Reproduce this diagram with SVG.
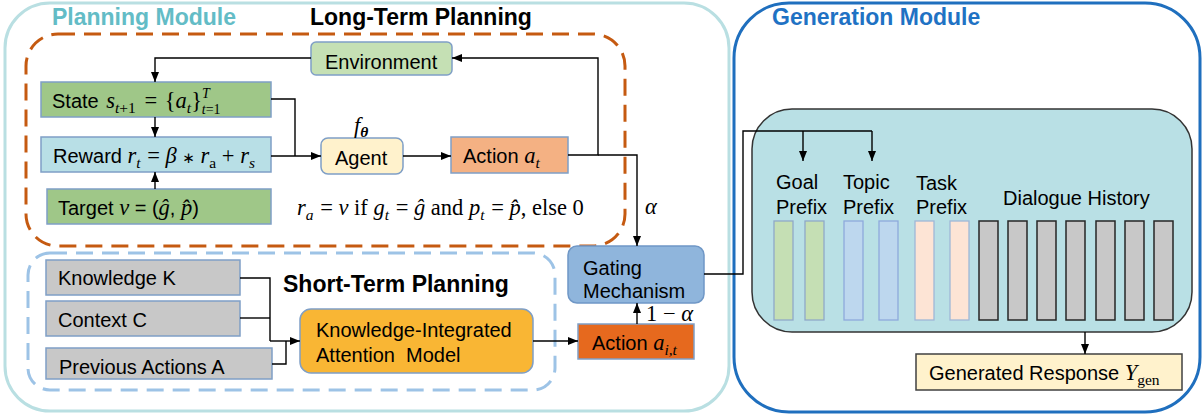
<svg xmlns="http://www.w3.org/2000/svg" width="1204" height="416" viewBox="0 0 1204 416">
<style>
  .sans { font-family: "Liberation Sans", Arial, sans-serif; font-size: 20px; fill: #000; }
  .title { font-family: "Liberation Sans", Arial, sans-serif; font-size: 23px; font-weight: bold; }
  .mi { font-family: "Liberation Serif", "Times New Roman", serif; font-style: italic; font-size: 22.5px; }
  .mr { font-family: "Liberation Serif", "Times New Roman", serif; font-style: normal; font-size: 22.5px; }
  .smi { font-family: "Liberation Serif", "Times New Roman", serif; font-style: italic; font-size: 15.5px; }
  .smr { font-family: "Liberation Serif", "Times New Roman", serif; font-style: normal; font-size: 15.5px; }
  .tiny { font-family: "Liberation Serif", "Times New Roman", serif; font-style: italic; font-size: 14px; }
  .tinyr { font-family: "Liberation Serif", "Times New Roman", serif; font-style: normal; font-size: 14px; }
  .ast { font-family: "DejaVu Sans", sans-serif; font-size: 15px; }
  .box { stroke: #7f9fc6; stroke-width: 1.5; }
  .conn { fill: none; stroke: #000; stroke-width: 1.4; }
  .arr { marker-end: url(#ah); }
  .bar-g { fill: #c5dfb4; stroke: #8fa9c8; stroke-width: 1.3; }
  .bar-b { fill: #bdd7ee; stroke: #8eaadc; stroke-width: 1.3; }
  .bar-p { fill: #fde4d5; stroke: #9fb7d8; stroke-width: 1.3; }
  .bar-k { fill: #c8c8c8; stroke: #262626; stroke-width: 1.5; }
</style>
<defs>
  <marker id="ah" markerWidth="10" markerHeight="8" refX="10" refY="4" orient="auto" markerUnits="userSpaceOnUse">
    <path d="M0,0 L10,4 L0,8 z" fill="#000"/>
  </marker>
</defs>

<g id="planning-module">
  <rect x="5" y="3" width="724" height="408" rx="45" fill="#fff" stroke="#b9dfe2" stroke-width="3"/>
  <text x="52" y="25" class="title" fill="#63bcc6">Planning Module</text>
</g>

<g id="generation-module">
  <rect x="734" y="3" width="466" height="409" rx="55" fill="#fff" stroke="#1f6fbe" stroke-width="3"/>
  <text x="772" y="25" class="title" fill="#1f72c4">Generation Module</text>
</g>

<g id="long-term-planning">
  <rect x="26" y="34" width="599" height="212" rx="32" fill="none" stroke="#c55a11" stroke-width="3" stroke-dasharray="17 9"/>
  <text x="310" y="25" class="title" fill="#000">Long-Term Planning</text>
</g>

<g id="short-term-planning">
  <rect x="28" y="253" width="527" height="137" rx="22" fill="none" stroke="#9dc3e6" stroke-width="3" stroke-dasharray="17 9"/>
  <text x="283" y="292" class="title" fill="#000">Short-Term Planning</text>
</g>

<g id="environment">
  <rect x="311" y="42" width="141" height="33" rx="5" fill="#c5e0b4" class="box"/>
  <text x="325" y="69" class="sans">Environment</text>
</g>

<g id="state">
  <rect x="41" y="82" width="230" height="35" fill="#9fc788" class="box"/>
  <text x="52" y="108" class="sans">State <tspan class="mi" dx="2">s</tspan><tspan class="smi" dy="5">t</tspan><tspan class="smr">+1</tspan><tspan class="mr" dy="-5" dx="3"> = </tspan><tspan class="mr" dx="2">{</tspan><tspan class="mi">a</tspan><tspan class="smi" dy="5">t</tspan><tspan class="mr" dy="-5">}</tspan><tspan class="tiny" dy="-10">T</tspan><tspan class="tiny" dx="-8" dy="16">t</tspan><tspan class="tinyr">=1</tspan></text>
</g>

<g id="reward">
  <rect x="41" y="137" width="230" height="35" fill="#b8dfe6" class="box"/>
  <text x="53" y="163" class="sans">Reward <tspan class="mi">r</tspan><tspan class="smi" dy="5">t</tspan><tspan class="mr" dy="-5" dx="1"> = </tspan><tspan class="mi">β</tspan><tspan class="mr"> </tspan><tspan class="ast">∗</tspan><tspan class="mr"> </tspan><tspan class="mi">r</tspan><tspan class="smr" dy="5">a</tspan><tspan class="mr" dy="-5"> + </tspan><tspan class="mi">r</tspan><tspan class="smi" dy="5">s</tspan></text>
</g>

<g id="target">
  <rect x="47" y="189" width="224" height="35" fill="#9fc788" class="box"/>
  <text x="58" y="215" class="sans">Target <tspan class="mi">v</tspan> = (<tspan class="mi">ĝ</tspan>, <tspan class="mi">p̂</tspan>)</text>
</g>

<g id="agent">
  <rect x="321" y="138" width="82" height="36" rx="7" fill="#fff2cc" class="box"/>
  <text x="335" y="165" class="sans">Agent</text>
  <text x="354" y="133"><tspan class="mi">f</tspan><tspan class="smi" font-weight="bold" dy="4">θ</tspan></text>
</g>

<g id="action-t">
  <rect x="451" y="137" width="117" height="36" fill="#f4b183" class="box"/>
  <text x="463" y="163" class="sans">Action <tspan class="mi">a</tspan><tspan class="smi" dy="5">t</tspan></text>
</g>

<g id="reward-formula">
  <text x="297" y="215"><tspan class="mi">r</tspan><tspan class="smi" dy="5">a</tspan><tspan class="mr" dy="-5" dx="1"> = </tspan><tspan class="mi">v</tspan><tspan class="mr"> if </tspan><tspan class="mi">g</tspan><tspan class="smi" dy="5">t</tspan><tspan class="mr" dy="-5" dx="1"> = </tspan><tspan class="mi">ĝ</tspan><tspan class="mr"> and </tspan><tspan class="mi">p</tspan><tspan class="smi" dy="5">t</tspan><tspan class="mr" dy="-5" dx="1"> = </tspan><tspan class="mi">p̂</tspan><tspan class="mr">, else 0</tspan></text>
</g>

<g id="knowledge">
  <rect x="46" y="260" width="194" height="35" fill="#c8c8c8" class="box"/>
  <text x="58" y="285" class="sans">Knowledge K</text>
</g>

<g id="context">
  <rect x="46" y="301" width="194" height="35" fill="#c8c8c8" class="box"/>
  <text x="58" y="327" class="sans">Context C</text>
</g>

<g id="previous-actions">
  <rect x="46" y="348" width="226" height="31" fill="#c8c8c8" class="box"/>
  <text x="59" y="374" class="sans">Previous Actions A</text>
</g>

<g id="kiam">
  <rect x="300" y="309" width="233" height="64" rx="11" fill="#f9b634" class="box"/>
  <text x="316" y="337" class="sans">Knowledge-Integrated</text>
  <text x="316" y="362" class="sans" xml:space="preserve">Attention  Model</text>
</g>

<g id="action-it">
  <rect x="578" y="324" width="116" height="35" fill="#e6691e" class="box"/>
  <text x="592" y="350" class="sans">Action <tspan class="mi">a</tspan><tspan class="smi" dy="5">i,t</tspan></text>
</g>

<g id="gating">
  <rect x="568" y="246" width="136" height="57" rx="9" fill="#8fb5dc" stroke="#6f97c6" stroke-width="1.5"/>
  <text x="583" y="275" class="sans">Gating</text>
  <text x="583" y="298" class="sans">Mechanism</text>
</g>

<g id="gen-input">
  <rect x="752" y="109" width="440" height="223" rx="40" fill="#b9e0e5" stroke="#333" stroke-width="1.5"/>
  <text x="776" y="189" class="sans">Goal</text>
  <text x="776" y="214" class="sans">Prefix</text>
  <text x="843" y="189" class="sans">Topic</text>
  <text x="843" y="214" class="sans">Prefix</text>
  <text x="916" y="190" class="sans">Task</text>
  <text x="916" y="214" class="sans">Prefix</text>
  <text x="1003" y="205" class="sans">Dialogue History</text>
  <rect x="774" y="221" width="19" height="99" class="bar-g"/>
  <rect x="805" y="221" width="19" height="99" class="bar-g"/>
  <rect x="844" y="221" width="19" height="99" class="bar-b"/>
  <rect x="879" y="221" width="19" height="99" class="bar-b"/>
  <rect x="915" y="221" width="19" height="99" class="bar-p"/>
  <rect x="950" y="221" width="19" height="99" class="bar-p"/>
  <rect x="979" y="221" width="19" height="99" class="bar-k"/>
  <rect x="1008" y="221" width="19" height="99" class="bar-k"/>
  <rect x="1037" y="221" width="19" height="99" class="bar-k"/>
  <rect x="1066" y="221" width="19" height="99" class="bar-k"/>
  <rect x="1096" y="221" width="19" height="99" class="bar-k"/>
  <rect x="1125" y="221" width="19" height="99" class="bar-k"/>
  <rect x="1154" y="221" width="19" height="99" class="bar-k"/>
</g>

<g id="generated-response">
  <rect x="916" y="354" width="266" height="36" fill="#fff2cc" stroke="#404040" stroke-width="1.5"/>
  <text x="929" y="380" class="sans">Generated Response <tspan class="mi">Y</tspan><tspan class="smr" dy="5">gen</tspan></text>
</g>

<g id="connectors">
  <path class="conn arr" d="M311,58 H155 V82"/>
  <path class="conn arr" d="M155,117 V137"/>
  <path class="conn arr" d="M155,189 V172"/>
  <path class="conn" d="M271,99 H295 V156"/>
  <path class="conn arr" d="M271,156 H321"/>
  <path class="conn arr" d="M403,156 H451"/>
  <path class="conn arr" d="M568,155 H598 V58 H452"/>
  <path class="conn arr" d="M598,155 H637 V246"/>
  <path class="conn arr" d="M637,324 V303"/>
  <path class="conn" d="M240,278 H270 V341"/>
  <path class="conn" d="M240,318 H270"/>
  <path class="conn" d="M272,364 H286 V341"/>
  <path class="conn arr" d="M270,341 H300"/>
  <path class="conn arr" d="M533,341 H578"/>
  <path class="conn" d="M704,274 H743 V131 H872"/>
  <path class="conn arr" d="M803,131 V161"/>
  <path class="conn arr" d="M872,131 V161"/>
  <path class="conn arr" d="M1085,332 V354"/>
  <text x="645" y="214" class="mi">α</text>
  <text x="646" y="321"><tspan class="mr">1 − </tspan><tspan class="mi">α</tspan></text>
</g>
</svg>
